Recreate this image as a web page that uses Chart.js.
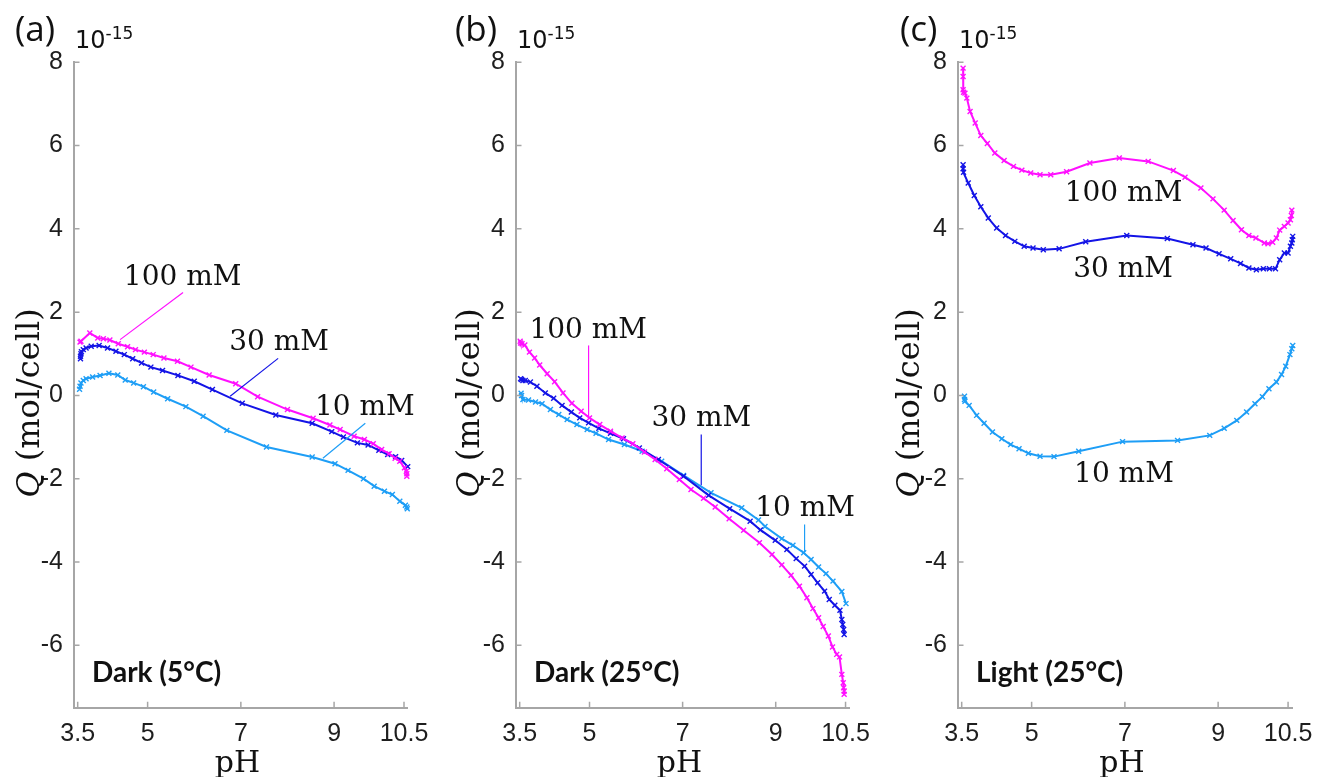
<!DOCTYPE html>
<html>
<head>
<meta charset="utf-8">
<script src="https://cdn.jsdelivr.net/npm/chart.js@4.4.1/dist/chart.umd.min.js"></script>
<style>
  html, body { margin: 0; padding: 0; background: #fff; }
  #wrap { position: relative; width: 1321px; height: 777px; overflow: hidden; }
  canvas { position: absolute; top: 0; }
</style>
</head>
<body>
<div id="wrap">
  <canvas id="panelA" style="left:0px" width="440" height="777"></canvas>
  <canvas id="panelB" style="left:440px" width="440" height="777"></canvas>
  <canvas id="panelC" style="left:880px" width="441" height="777"></canvas>
</div>
<script>
// tick values
const phTicks = [3.5, 5, 7, 9, 10.5];
const qTicks = [-6, -4, -2, 0, 2, 4, 6, 8];

// (a) dark, 5 °C
const phA100 = [3.55, 3.57, 3.76, 3.93, 4.05, 4.19, 4.37, 4.57, 4.74, 4.93, 5.12, 5.35, 5.64, 5.93, 6.32, 6.89, 7.36, 8.00, 8.55, 8.91, 9.13, 9.43, 9.65, 9.84, 10.02, 10.18, 10.31, 10.41, 10.51, 10.55, 10.56, 10.56];
const qA100 = [1.28, 1.30, 1.50, 1.38, 1.36, 1.33, 1.24, 1.17, 1.10, 1.04, 0.98, 0.90, 0.82, 0.68, 0.49, 0.28, -0.03, -0.34, -0.55, -0.71, -0.82, -0.98, -1.06, -1.16, -1.30, -1.40, -1.51, -1.58, -1.74, -1.82, -1.88, -1.94];
const phA30 = [3.56, 3.56, 3.57, 3.58, 3.62, 3.68, 3.79, 3.96, 4.14, 4.32, 4.50, 4.68, 4.87, 5.07, 5.32, 5.65, 6.00, 6.39, 7.03, 7.75, 8.53, 8.95, 9.20, 9.50, 9.73, 9.96, 10.15, 10.32, 10.45, 10.58];
const qA30 = [0.88, 0.94, 1.00, 1.05, 1.10, 1.14, 1.18, 1.20, 1.14, 1.06, 0.98, 0.88, 0.78, 0.68, 0.60, 0.48, 0.34, 0.14, -0.19, -0.47, -0.67, -0.87, -1.00, -1.14, -1.19, -1.32, -1.42, -1.47, -1.56, -1.71];
const phA10 = [3.54, 3.55, 3.57, 3.62, 3.68, 3.82, 3.98, 4.17, 4.36, 4.52, 4.70, 4.91, 5.13, 5.43, 5.82, 6.19, 6.70, 7.55, 8.53, 9.02, 9.30, 9.63, 9.86, 10.08, 10.25, 10.41, 10.53, 10.56, 10.57];
const qA10 = [0.15, 0.22, 0.30, 0.36, 0.40, 0.44, 0.48, 0.53, 0.49, 0.37, 0.30, 0.21, 0.08, -0.08, -0.27, -0.50, -0.84, -1.24, -1.48, -1.64, -1.80, -2.00, -2.18, -2.30, -2.38, -2.54, -2.64, -2.68, -2.72];

// (b) dark, 25 °C
const phB100 = [3.51, 3.52, 3.55, 3.61, 3.71, 3.82, 3.93, 4.09, 4.25, 4.43, 4.62, 4.82, 5.00, 5.22, 5.45, 5.70, 5.93, 6.18, 6.41, 6.66, 6.93, 7.18, 7.45, 7.70, 8.00, 8.31, 8.65, 8.92, 9.13, 9.33, 9.51, 9.67, 9.80, 9.92, 10.02, 10.13, 10.22, 10.31, 10.37, 10.42, 10.45, 10.46, 10.47, 10.47];
const qB100 = [1.30, 1.26, 1.24, 1.21, 1.04, 0.90, 0.73, 0.52, 0.33, 0.06, -0.19, -0.38, -0.54, -0.70, -0.86, -1.02, -1.16, -1.36, -1.54, -1.76, -2.02, -2.26, -2.47, -2.68, -2.96, -3.24, -3.54, -3.82, -4.07, -4.32, -4.58, -4.86, -5.12, -5.34, -5.55, -5.78, -6.04, -6.22, -6.28, -6.70, -6.90, -7.02, -7.10, -7.18];
const phB30 = [3.52, 3.54, 3.57, 3.62, 3.73, 3.87, 4.05, 4.23, 4.41, 4.61, 4.79, 4.98, 5.20, 5.45, 5.73, 6.07, 6.48, 7.02, 7.56, 8.01, 8.45, 8.67, 8.99, 9.24, 9.44, 9.62, 9.76, 9.90, 10.05, 10.15, 10.27, 10.38, 10.42, 10.44, 10.46, 10.47];
const qB30 = [0.40, 0.38, 0.36, 0.36, 0.32, 0.22, 0.06, -0.07, -0.24, -0.40, -0.54, -0.66, -0.79, -0.91, -1.04, -1.26, -1.54, -1.94, -2.40, -2.72, -3.02, -3.23, -3.48, -3.70, -3.92, -4.10, -4.30, -4.50, -4.70, -4.90, -5.04, -5.16, -5.38, -5.50, -5.62, -5.74];
const phB10 = [3.53, 3.54, 3.57, 3.69, 3.84, 3.98, 4.16, 4.34, 4.52, 4.73, 4.95, 5.14, 5.41, 5.75, 6.13, 6.55, 7.02, 7.61, 8.27, 8.63, 8.77, 9.13, 9.37, 9.60, 9.76, 9.92, 10.08, 10.23, 10.42, 10.51];
const qB10 = [0.05, 0.00, -0.10, -0.11, -0.16, -0.20, -0.34, -0.46, -0.58, -0.70, -0.82, -0.91, -1.06, -1.18, -1.34, -1.58, -1.92, -2.34, -2.70, -2.99, -3.15, -3.44, -3.60, -3.78, -3.94, -4.12, -4.28, -4.46, -4.71, -5.00];

// (c) light, 25 °C
const phC100 = [3.53, 3.53, 3.53, 3.54, 3.57, 3.61, 3.68, 3.79, 3.91, 4.05, 4.21, 4.41, 4.61, 4.79, 4.98, 5.18, 5.41, 5.75, 6.25, 6.88, 7.50, 8.04, 8.29, 8.63, 8.89, 9.13, 9.32, 9.50, 9.66, 9.81, 9.99, 10.07, 10.17, 10.25, 10.32, 10.42, 10.50, 10.55, 10.57, 10.58];
const qC100 = [7.86, 7.66, 7.34, 7.28, 7.26, 7.14, 6.82, 6.54, 6.24, 6.05, 5.82, 5.64, 5.50, 5.41, 5.34, 5.30, 5.30, 5.37, 5.58, 5.70, 5.62, 5.40, 5.24, 4.98, 4.72, 4.45, 4.20, 3.98, 3.84, 3.78, 3.66, 3.64, 3.68, 3.78, 3.97, 4.06, 4.14, 4.22, 4.32, 4.45];
const phC30 = [3.53, 3.53, 3.54, 3.64, 3.77, 3.91, 4.07, 4.25, 4.44, 4.64, 4.84, 5.03, 5.25, 5.59, 6.16, 7.04, 7.91, 8.46, 8.74, 9.02, 9.27, 9.48, 9.66, 9.82, 9.97, 10.10, 10.23, 10.32, 10.42, 10.50, 10.55, 10.58, 10.59, 10.60];
const qC30 = [5.54, 5.44, 5.36, 5.10, 4.80, 4.53, 4.26, 4.02, 3.84, 3.70, 3.58, 3.54, 3.50, 3.52, 3.69, 3.84, 3.77, 3.62, 3.54, 3.40, 3.28, 3.17, 3.06, 3.02, 3.04, 3.04, 3.04, 3.26, 3.42, 3.42, 3.58, 3.66, 3.74, 3.82];
const phC10 = [3.56, 3.56, 3.57, 3.66, 3.82, 3.98, 4.16, 4.36, 4.55, 4.73, 4.93, 5.18, 5.48, 6.01, 6.95, 8.13, 8.82, 9.13, 9.40, 9.61, 9.79, 9.95, 10.09, 10.25, 10.36, 10.45, 10.54, 10.58, 10.60];
const qC10 = [-0.02, -0.10, -0.14, -0.24, -0.48, -0.67, -0.88, -1.04, -1.18, -1.28, -1.39, -1.46, -1.47, -1.34, -1.11, -1.08, -0.96, -0.79, -0.60, -0.40, -0.20, -0.03, 0.16, 0.32, 0.50, 0.70, 0.98, 1.12, 1.20];

const MAGENTA = '#ff10ff';
const BLUE = '#1414e6';
const SKY = '#1e9ef6';
const AXIS = '#a6a6a6';
const TICK_TEXT = '#1e1e1e';

function series(ph, q, color) {
  return {
    data: ph.map((x, i) => ({ x: x, y: q[i] })),
    borderColor: color,
    backgroundColor: color,
    borderWidth: 2,
    pointStyle: 'crossRot',
    pointRadius: 3.5,
    pointBorderWidth: 1.4,
    pointHoverRadius: 3.5,
    tension: 0,
    clip: false
  };
}

// axis decorations and text drawn on top of each panel
const decor = {
  id: 'decor',
  afterDatasetsDraw(chart, args, opts) {
    const ctx = chart.ctx;
    const xs = chart.scales.x, ys = chart.scales.y;
    const area = chart.chartArea;
    ctx.save();

    // inward tick marks
    ctx.strokeStyle = AXIS;
    ctx.lineWidth = 1.5;
    ctx.beginPath();
    phTicks.forEach(v => {
      const px = xs.getPixelForValue(v);
      ctx.moveTo(px, area.bottom);
      ctx.lineTo(px, area.bottom - 6);
    });
    qTicks.forEach(v => {
      const py = ys.getPixelForValue(v);
      ctx.moveTo(area.left, py);
      ctx.lineTo(area.left + 6, py);
    });
    ctx.stroke();

    // leader lines
    ctx.lineWidth = 1.2;
    (opts.leaders || []).forEach(l => {
      ctx.strokeStyle = l.color;
      ctx.beginPath();
      ctx.moveTo(xs.getPixelForValue(l.from[0]), ys.getPixelForValue(l.from[1]));
      ctx.lineTo(xs.getPixelForValue(l.to[0]), ys.getPixelForValue(l.to[1]));
      ctx.stroke();
    });

    // concentration labels
    ctx.fillStyle = '#111';
    ctx.font = '28px "DejaVu Serif"';
    ctx.textAlign = 'left';
    ctx.textBaseline = 'alphabetic';
    (opts.labels || []).forEach(t => {
      ctx.fillText(t.text, xs.getPixelForValue(t.x), ys.getPixelForValue(t.y));
    });

    // condition
    ctx.font = 'bold 28px Lato';
    ctx.fillText(opts.condition, area.left + 18.5, 682);

    // panel letter and exponent
    ctx.font = '35px "Open Sans"';
    ctx.fillText(opts.letter, opts.letterX, 41);
    ctx.font = '24px "DejaVu Sans"';
    ctx.fillText('10', area.left + 1.5, 48);
    const w10 = ctx.measureText('10').width;
    ctx.font = '17px "DejaVu Sans"';
    ctx.fillText('-15', area.left + 1.5 + w10, 39);

    // x title
    ctx.font = '30px "DejaVu Serif"';
    ctx.textAlign = 'center';
    ctx.fillText('pH', (area.left + area.right) / 2 - 3, 772);

    // y title with italic Q
    ctx.translate(39, 403);
    ctx.rotate(-Math.PI / 2);
    ctx.textAlign = 'left';
    const italic = 'italic 32px "DejaVu Serif"';
    const upright = '32px "DejaVu Serif"';
    ctx.font = italic;
    const wq = ctx.measureText('Q').width;
    ctx.font = upright;
    const rest = ' (mol/cell)';
    const wr = ctx.measureText(rest).width;
    const start = -(wq + wr) / 2;
    ctx.font = italic;
    ctx.fillText('Q', start, 0);
    ctx.font = upright;
    ctx.fillText(rest, start + wq, 0);

    ctx.restore();
  }
};

function makePanel(id, datasets, yWidth, padRight, xMax, decorOpts) {
  return new Chart(document.getElementById(id), {
    type: 'line',
    data: { datasets: datasets },
    plugins: [decor],
    options: {
      responsive: false,
      animation: false,
      events: [],
      layout: { padding: { left: 0, top: 62.3, right: padRight, bottom: 0 } },
      plugins: {
        legend: { display: false },
        tooltip: { enabled: false },
        decor: decorOpts
      },
      scales: {
        x: {
          type: 'linear',
          min: 3.41,
          max: xMax,
          afterBuildTicks: s => { s.ticks = phTicks.map(v => ({ value: v })); },
          afterFit: s => { s.height = 69.3; },
          grid: { display: false },
          border: { display: true, color: AXIS, width: 2 },
          ticks: {
            padding: 3,
            color: TICK_TEXT,
            maxRotation: 0,
            autoSkip: false,
            font: { family: 'Liberation Sans', size: 25 },
            callback: v => String(v)
          }
        },
        y: {
          type: 'linear',
          min: -7.5,
          max: 8,
          afterBuildTicks: s => { s.ticks = qTicks.map(v => ({ value: v })); },
          afterFit: s => { s.width = yWidth; },
          grid: { display: false },
          border: { display: true, color: AXIS, width: 2 },
          ticks: {
            padding: 2.5,
            color: TICK_TEXT,
            autoSkip: false,
            font: { family: 'Liberation Sans', size: 25 },
            callback: v => String(v)
          }
        }
      }
    }
  });
}

makePanel('panelA', [
  series(phA100, qA100, MAGENTA),
  series(phA30, qA30, BLUE),
  series(phA10, qA10, SKY)
], 73.5, 32.5, 10.575, {
  letter: '(a)', letterX: 15, condition: 'Dark (5°C)',
  labels: [
    { text: '100 mM', x: 4.49, y: 2.66 },
    { text: '30 mM', x: 6.75, y: 1.10 },
    { text: '10 mM', x: 8.59, y: -0.46 }
  ],
  leaders: [
    { color: MAGENTA, from: [5.76, 2.47], to: [4.41, 1.34] },
    { color: BLUE, from: [7.80, 0.89], to: [6.77, -0.02] },
    { color: SKY, from: [9.67, -0.67], to: [8.76, -1.51] }
  ]
});

makePanel('panelB', [
  series(phB100, qB100, MAGENTA),
  series(phB30, qB30, BLUE),
  series(phB10, qB10, SKY)
], 75.5, 30.5, 10.585, {
  letter: '(b)', letterX: 15, condition: 'Dark (25°C)',
  labels: [
    { text: '100 mM', x: 3.71, y: 1.39 },
    { text: '30 mM', x: 6.33, y: -0.74 },
    { text: '10 mM', x: 8.56, y: -2.90 }
  ],
  leaders: [
    { color: MAGENTA, from: [4.98, 1.20], to: [4.98, -0.50] },
    { color: BLUE, from: [7.40, -0.94], to: [7.40, -2.16] },
    { color: SKY, from: [9.62, -3.10], to: [9.62, -3.77] }
  ]
});

makePanel('panelC', [
  series(phC100, qC100, MAGENTA),
  series(phC30, qC30, BLUE),
  series(phC10, qC10, SKY)
], 77.5, 28.5, 10.595, {
  letter: '(c)', letterX: 20, condition: 'Light (25°C)',
  labels: [
    { text: '100 mM', x: 5.71, y: 4.67 },
    { text: '30 mM', x: 5.89, y: 2.84 },
    { text: '10 mM', x: 5.91, y: -2.08 }
  ],
  leaders: []
});
</script>
</body>
</html>
